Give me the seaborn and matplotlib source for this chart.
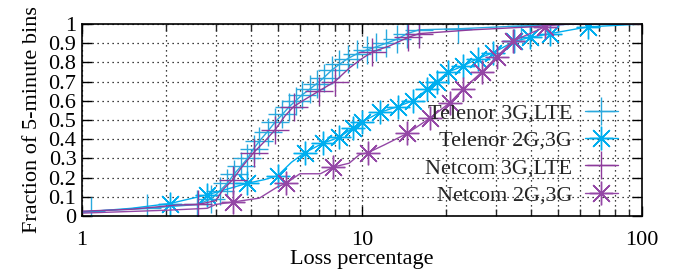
import numpy as np
import pandas as pd
import seaborn as sns
import matplotlib
matplotlib.use("Agg")
import matplotlib.pyplot as plt
from matplotlib.ticker import LogLocator, NullFormatter, FixedLocator

# Dados (CDF da perda)
tel_lte_x = [1.0, 1.08, 1.71, 2.58, 2.9, 3.1, 3.3, 3.5, 3.7, 3.9, 4.1, 4.3, 4.6, 4.9, 5.2, 5.5,
             5.8, 6.1, 6.5, 6.9, 7.3, 7.8, 8.3, 8.9, 9.6, 10.4, 11.2, 12.2, 13.3, 14.5, 16.0,
             22.0, 37.0, 60.0, 100.0]
tel_lte_y = [0.02, 0.025, 0.04, 0.06, 0.09, 0.13, 0.17, 0.22, 0.26, 0.30, 0.35, 0.39, 0.44, 0.49,
             0.53, 0.57, 0.60, 0.63, 0.66, 0.69, 0.72, 0.76, 0.79, 0.82, 0.845, 0.865, 0.88, 0.90,
             0.92, 0.95, 0.97, 0.975, 0.99, 1.0, 1.0]

tel_2g_x = [1.0, 1.5, 2.06, 2.79, 3.3, 3.88, 4.5, 5.0, 5.6, 6.25, 7.27, 8.3, 9.3, 10.0, 11.6,
            13.4, 15.2, 17.1, 18.5, 20.3, 22.9, 25.9, 29.4, 35.0, 39.8, 47.0, 64.0, 100.0]
tel_2g_y = [0.02, 0.04, 0.065, 0.11, 0.14, 0.17, 0.19, 0.21, 0.28, 0.33, 0.38, 0.41, 0.46, 0.49,
            0.54, 0.57, 0.60, 0.66, 0.70, 0.75, 0.78, 0.82, 0.85, 0.91, 0.93, 0.95, 0.985, 1.0]

net_lte_x = [1.0, 1.5, 2.18, 2.6, 3.0, 3.2, 3.46, 3.7, 4.1, 4.5, 4.9, 5.3, 5.7, 6.3, 7.0, 8.0,
             9.0, 10.0, 10.9, 12.5, 14.6, 16.0, 25.0, 40.0, 55.0, 100.0]
net_lte_y = [0.025, 0.035, 0.057, 0.06, 0.08, 0.14, 0.19, 0.25, 0.33, 0.39, 0.45, 0.52, 0.57,
             0.61, 0.65, 0.70, 0.77, 0.82, 0.855, 0.885, 0.93, 0.95, 0.97, 0.985, 1.0, 1.0]

net_2g_x = [1.0, 2.0, 2.8, 3.0, 3.46, 4.3, 4.97, 5.35, 6.0, 7.1, 7.9, 9.0, 9.8, 10.5, 12.0,
            14.5, 17.5, 20.6, 22.9, 26.8, 30.3, 34.5, 45.0, 48.0, 100.0]
net_2g_y = [0.015, 0.03, 0.04, 0.06, 0.073, 0.093, 0.15, 0.17, 0.22, 0.22, 0.255, 0.275, 0.32,
            0.33, 0.37, 0.43, 0.51, 0.59, 0.66, 0.75, 0.83, 0.91, 0.985, 1.0, 1.0]

series = [
    ("Telenor 3G,LTE", tel_lte_x, tel_lte_y, "#2aa9de", "+", 20, list(range(1, 33))),
    ("Telenor 2G,3G", tel_2g_x, tel_2g_y, "#00aeef", (8, 2, 0), 17,
     [2, 3, 5, 7, 9, 10, 11, 12, 13, 14, 15, 16, 17, 18, 19, 20, 21, 22, 23, 24, 25, 26]),
    ("Netcom 3G,LTE", net_lte_x, net_lte_y, "#8e3b9c", "+", 20,
     [3, 6, 8, 10, 12, 14, 15, 18, 20, 21]),
    ("Netcom 2G,3G", net_2g_x, net_2g_y, "#9447a6", (8, 2, 0), 17,
     [4, 7, 10, 13, 15, 16, 17, 18, 19, 20, 21, 22]),
]

sns.set_theme(style="ticks")
plt.rcParams["font.family"] = ["Liberation Serif", "DejaVu Serif"]

fs = 16

fig = plt.figure(figsize=(6.74, 2.73), dpi=100)
ax = fig.add_axes([82 / 674, 57 / 273, 560 / 674, 192 / 273])

for nome, xs, ys, cor, mk, ms, idx in series:
    df = pd.DataFrame({"x": xs, "y": ys})
    sns.lineplot(data=df, x="x", y="y", ax=ax, color=cor, linewidth=1.0,
                 marker=mk, markersize=ms, markeredgewidth=1.0, markeredgecolor=cor,
                 markerfacecolor=cor, markevery=idx, label=nome, estimator=None)

ax.set_xscale("log")
ax.set_xlim(1, 100)
ax.set_ylim(0, 1)
ax.yaxis.set_major_locator(FixedLocator(np.arange(0, 1.01, 0.1)))
ax.set_yticklabels(["0", "0.1", "0.2", "0.3", "0.4", "0.5", "0.6", "0.7", "0.8", "0.9", "1"])
ax.xaxis.set_major_locator(FixedLocator([1, 10, 100]))
ax.set_xticklabels(["1", "10", "100"])
ax.xaxis.set_minor_locator(LogLocator(base=10, subs=np.arange(2, 10)))
ax.xaxis.set_minor_formatter(NullFormatter())

ax.grid(True, which="major", axis="both", color="black", linestyle=(0, (1, 3)), linewidth=0.9)
ax.grid(True, which="minor", axis="x", color="black", linestyle=(0, (1, 3)), linewidth=0.9)

ax.tick_params(axis="both", which="major", direction="in", length=7, width=1,
               top=True, right=True, labelsize=fs, colors="black")
ax.tick_params(axis="x", which="minor", direction="in", length=5, width=1, top=True)
ax.tick_params(axis="x", which="major", pad=11)
ax.tick_params(axis="y", which="major", pad=4)
for s in ax.spines.values():
    s.set_linewidth(1.2)
    s.set_color("black")

ax.set_xlabel("Loss percentage", fontsize=fs, labelpad=0, color="black")
ax.set_ylabel("Fraction of 5-minute bins", fontsize=fs, labelpad=5, color="black")

ax.legend(loc="lower right", bbox_to_anchor=(0.957, 0.055), frameon=False, markerfirst=False,
          fontsize=fs, handlelength=1.5, handletextpad=0.55, labelspacing=0.3,
          borderpad=0, borderaxespad=0)

fig.savefig("out.png", dpi=100)
